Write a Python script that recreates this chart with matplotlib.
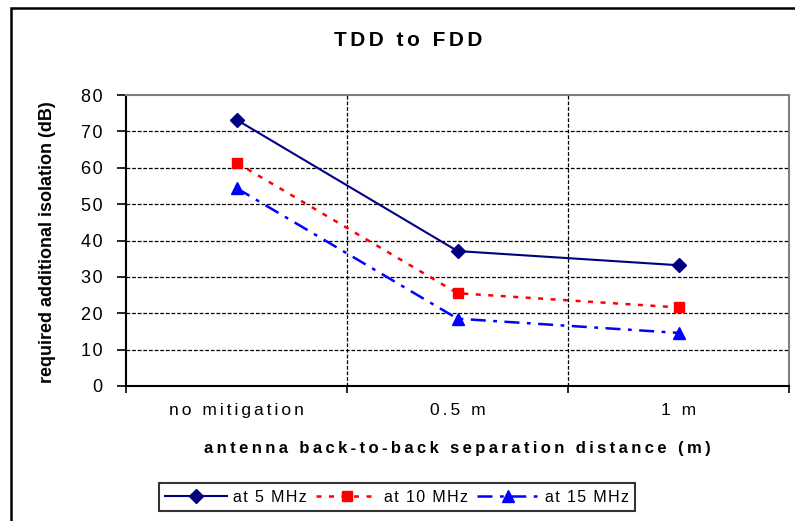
import matplotlib
matplotlib.use('Agg')
import matplotlib.pyplot as plt
import matplotlib.patches as patches

plt.rcParams['font.family'] = ['Liberation Sans', 'DejaVu Sans']

categories = ['no mitigation', '0.5 m', '1 m']
at_5mhz = [73.2, 37.1, 33.2]
at_10mhz = [61.4, 25.5, 21.6]
at_15mhz = [54.4, 18.5, 14.6]
series_labels = ['at 5 MHz', 'at 10 MHz', 'at 15 MHz']
y_ticks = list(range(0, 81, 10))

HAIR = '\u200a'
THIN = '\u2009'


def spaced(text, sep=HAIR):
    # spread letters out like the old Excel chart text
    return sep.join(text)


fig = plt.figure(figsize=(7.95, 5.21), dpi=100)
ax = fig.add_axes([126 / 795, 1 - 386 / 521, 663 / 795, 291 / 521])

x = [i + 0.5 for i in range(len(categories))]
l1, = ax.plot(x, at_5mhz, color='#000080', lw=1.5, ls='-', marker='D', ms=7.5,
              label=spaced(series_labels[0]))
l2, = ax.plot(x, at_10mhz, color='#ff0000', lw=1.8, ls=(0, (2, 3)), marker='s', ms=7,
              label=spaced(series_labels[1]))
l3, = ax.plot(x, at_15mhz, color='#0000ff', lw=1.8, ls=(0, (6, 3, 1.5, 3)), marker='^', ms=9,
              label=spaced(series_labels[2]))

ax.set_xlim(0, 3)
ax.set_ylim(0, 80)
ax.set_yticks(y_ticks)
ax.set_yticklabels([spaced(str(v)) for v in y_ticks], fontsize=13)
ax.set_xticks([0, 1, 2, 3])
ax.set_xticklabels([])
ax.set_xticks(x, minor=True)
ax.set_xticklabels([spaced(c, HAIR * 2) for c in categories], minor=True, fontsize=12.5)
ax.tick_params(axis='x', which='minor', length=0, pad=12)
ax.tick_params(axis='x', which='major', length=5, width=1.2, direction='out')
ax.tick_params(axis='y', length=6.5, width=1.2, direction='out', pad=10.5)

# dashed grid, like the reference
for v in range(10, 80, 10):
    ax.axhline(v, color='black', lw=0.9, ls=(0, (3, 1.5)), zorder=0.5)
for v in [1, 2]:
    ax.axvline(v, color='black', lw=0.9, ls=(0, (3, 1.5)), zorder=0.5)

for side in ['top', 'right']:
    ax.spines[side].set_color('#808080')
    ax.spines[side].set_linewidth(1.5)
for side in ['left', 'bottom']:
    ax.spines[side].set_color('black')
    ax.spines[side].set_linewidth(1.5)

fig.text(48 / 795, 1 - 242 / 521, 'required additional isolation (dB)', fontsize=13,
         fontweight='bold', rotation=90, ha='center', va='center')
fig.text(457 / 795, 1 - 449 / 521, spaced('antenna back-to-back separation distance (m)', THIN),
         fontsize=12, fontweight='bold', ha='center', va='center')
fig.text(408 / 795, 1 - 40 / 521, spaced('TDD to FDD', HAIR * 2), fontsize=15,
         fontweight='bold', ha='center', va='center')

leg = fig.legend(handles=[l1, l2, l3], loc='center', bbox_to_anchor=(397 / 795, 1 - 497 / 521),
                 ncol=3, fontsize=11.5, frameon=True, fancybox=False, handlelength=3.9,
                 columnspacing=0.6, handletextpad=0.35, borderpad=0.4, borderaxespad=0)
leg.get_frame().set_edgecolor('black')
leg.get_frame().set_linewidth(1.5)

# outer chart frame
frame = patches.Rectangle((11 / 795, -0.1), 1.2, 1.1 - 8 / 521, transform=fig.transFigure,
                          fill=False, edgecolor='black', linewidth=1.8)
fig.add_artist(frame)

fig.savefig('out.png', dpi=100)
